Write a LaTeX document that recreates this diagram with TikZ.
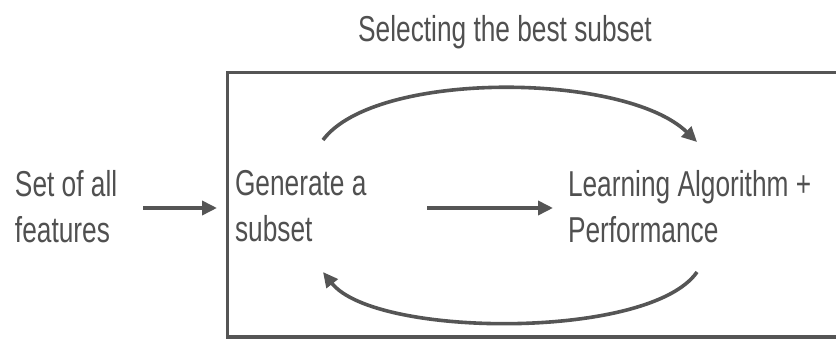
\documentclass[tikz,border=0pt]{standalone}
\usepackage{fontspec}
\newfontfamily\nar[FakeStretch=0.73]{Liberation Sans}
\usetikzlibrary{arrows.meta,calc}
\definecolor{ink}{HTML}{505050}
\definecolor{linec}{HTML}{555555}
\begin{document}
\begin{tikzpicture}[x=1pt,y=-1pt,
  lbl/.style={inner sep=0pt,outer sep=0pt,text=ink,align=left,anchor=north west,
    font=\nar\fontsize{36}{46}\selectfont},
  arr/.style={draw=linec,line width=3.6pt,-{Triangle[length=15pt,width=14pt]}},
  frame/.style={draw=linec,line width=3pt}]
\useasboundingbox (0,0) rectangle (836,339);
\clip (0,0) rectangle (836,339);
\node[inner sep=0pt,text=ink,anchor=base,font=\nar\fontsize{36}{46}\selectfont] (title) at (505,42) {Selecting the best subset};
\draw[frame] (227,73) rectangle (860,337);
\node[lbl] (set) at (15,170) {Set of all\\features};
\node[lbl] (gen) at (235,170) {Generate a\\subset};
\node[lbl] (learn) at (568,170) {Learning Algorithm +\\Performance};
\draw[arr] ($(set.north west)+(128,38)$) -- ($(gen.north west)+(-18,38)$);
\draw[arr] ($(gen.north west)+(192,38)$) -- ($(learn.north west)+(-15,38)$);
\draw[arr] ($(gen.north west)+(88,-30)$) .. controls (375,70) and (625,72) .. ($(learn.north west)+(129,-28)$);
\draw[arr] ($(learn.north west)+(129,102)$) .. controls (650,340) and (375,338) .. ($(gen.north west)+(88,102)$);
\end{tikzpicture}
\end{document}
